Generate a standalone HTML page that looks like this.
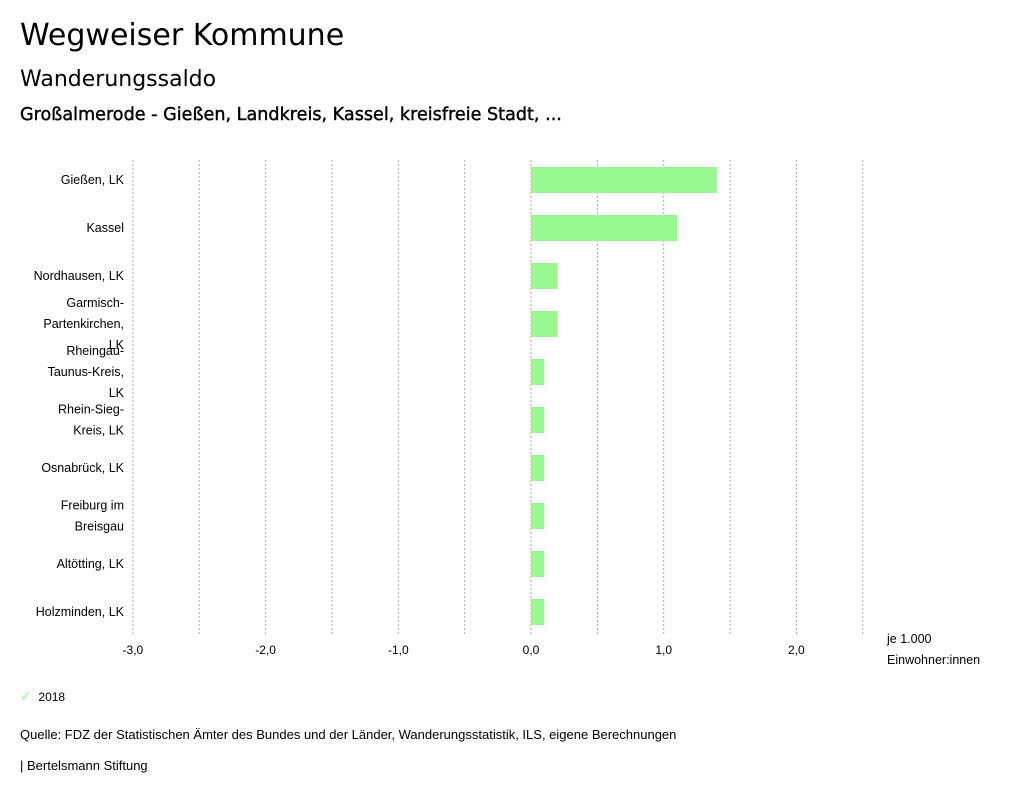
<!DOCTYPE html>
<html><head><meta charset="utf-8"><style>
body{margin:0;width:1024px;height:799px;background:#fff;font-family:"Liberation Sans",sans-serif;color:#000;overflow:hidden;position:relative}
.t{position:absolute;white-space:nowrap}
</style></head><body>
<div class="t" style="left:20px;top:18px;font-size:30px;font-family:'DejaVu Sans',sans-serif">Wegweiser Kommune</div>
<div class="t" style="left:20px;top:67px;font-size:22px;font-family:'DejaVu Sans',sans-serif">Wanderungssaldo</div>
<div class="t" style="left:20px;top:105px;font-size:17.6px;font-family:'DejaVu Sans',sans-serif;-webkit-text-stroke:0.4px #000">Großalmerode - Gießen, Landkreis, Kassel, kreisfreie Stadt, ...</div>
<svg id="chart" width="1024" height="799" style="position:absolute;left:0;top:0" font-family="Liberation Sans, sans-serif"></svg>
<div class="t" style="left:20px;top:688px;font-size:12px"><span style="color:#98f58f;font-size:14px">✓</span>&nbsp;&nbsp;2018</div>
<div class="t" style="left:20px;top:727px;font-size:13px">Quelle: FDZ der Statistischen Ämter des Bundes und der Länder, Wanderungsstatistik, ILS, eigene Berechnungen</div>
<div class="t" style="left:20px;top:758px;font-size:13px">| Bertelsmann Stiftung</div>
<script>
const categories=[["Gießen, LK"],["Kassel"],["Nordhausen, LK"],["Garmisch-","Partenkirchen,","LK"],["Rheingau-","Taunus-Kreis,","LK"],["Rhein-Sieg-","Kreis, LK"],["Osnabrück, LK"],["Freiburg im","Breisgau"],["Altötting, LK"],["Holzminden, LK"]];
const values=[1.4,1.1,0.2,0.2,0.1,0.1,0.1,0.1,0.1,0.1];
const tickValues=[-3,-2,-1,0,1,2];
const tickLabels=["-3,0","-2,0","-1,0","0,0","1,0","2,0"];
const gridValues=[-3,-2.5,-2,-1.5,-1,-0.5,0,0.5,1,1.5,2,2.5];
const svg=document.getElementById('chart');
const NS='http://www.w3.org/2000/svg';
const x=v=>531+v*132.7;
const yc=i=>180+i*48;
function mk(tag,attrs){const e=document.createElementNS(NS,tag);for(const k in attrs)e.setAttribute(k,attrs[k]);svg.appendChild(e);return e;}
gridValues.forEach(g=>{
  const l=mk('line',{x1:x(g),x2:x(g),y1:160,y2:636,stroke:'#aaa','stroke-dasharray':'2,2','stroke-width':1});
  
  
});
tickValues.forEach((t,i)=>{
  const e=mk('text',{x:x(t),y:654,'font-size':12,'text-anchor':'middle'});
  e.textContent=tickLabels[i];
  
  
});
values.forEach((v,i)=>{
  const r=mk('rect',{x:Math.min(x(0),x(v)),y:yc(i)-13,width:Math.abs(x(v)-x(0)),height:26,fill:'#98f88f'});
  
  
  const lines=categories[i];
  const n=lines.length;
  lines.forEach((s,j)=>{
    const t=mk('text',{x:124,y:yc(i)+4+(j-(n-1)/2)*21,'font-size':12.5,'text-anchor':'end'});
    t.textContent=s;
    
    
  });
});
const u1=mk('text',{x:887,y:643,'font-size':12.5});u1.textContent='je 1.000';


const u2=mk('text',{x:887,y:664,'font-size':12.5});u2.textContent='Einwohner:innen';


</script>
</body></html>
